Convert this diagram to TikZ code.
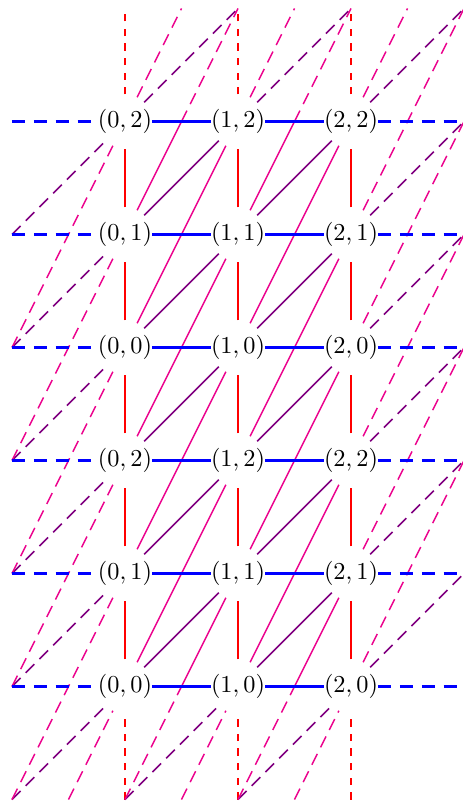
\documentclass[tikz,border=0pt]{standalone}
\definecolor{cred}{RGB}{255,0,0}
\definecolor{cblue}{RGB}{0,0,255}
\definecolor{cpurp}{RGB}{128,0,128}
\definecolor{cmag}{RGB}{235,0,140}
\tikzset{
  hedge/.style={line width=0.9pt,draw=cblue},
  vedge/.style={line width=0.8pt,draw=cred},
  dedge/.style={line width=0.6pt,draw=cpurp},
  medge/.style={line width=0.6pt,draw=cmag},
  hdash/.style={dash pattern=on 5.4pt off 3.6pt},
  vdash/.style={dash pattern=on 3pt off 3pt},
  ddash/.style={dash pattern=on 5pt off 3pt},
  vtx/.style={circle,inner sep=0pt,outer sep=-1pt}
}
% point (x,y) of the half-integer lattice is named c<2x+2>y<y+2>
\newcommand\E[5]{%
  \pgfmathtruncatemacro\ea{2*(#2)+2}%
  \pgfmathtruncatemacro\eb{(#3)+2}%
  \pgfmathtruncatemacro\ec{2*(#4)+2}%
  \pgfmathtruncatemacro\ed{(#5)+2}%
  \draw[#1] (c\ea y\eb) -- (c\ec y\ed);%
}
\begin{document}
\begin{tikzpicture}[x=46.5pt,y=46.5pt]
\useasboundingbox (-1.1062,-1.0398) rectangle (2.9823,6.0752);
% lattice points: labelled nodes inside, bare coordinates outside
\foreach \X in {0,...,8} {
  \foreach \k in {-1,...,6} {
    \pgfmathtruncatemacro\Y{\k+2}
    \pgfmathsetmacro\xx{\X/2-1}
    \pgfmathtruncatemacro\ins{(\X>=2)*(\X<=6)*(mod(\X,2)==0)*(\k>=0)*(\k<=5)}
    \pgfmathtruncatemacro\ii{\X/2-1}
    \pgfmathtruncatemacro\j{mod(\k+6,3)}
    \ifnum\ins=1
      \node[vtx] (c\X y\Y) at (\xx,\k) {$(\ii,\j)$};
    \else
      \coordinate (c\X y\Y) at (\xx,\k);
    \fi
  }
}
% vertical (red)
\foreach \i in {0,1,2} {
  \E{vedge,vdash}{\i}{-1}{\i}{0}
  \foreach \k in {0,...,4} {
    \E{vedge}{\i}{\k}{\i}{\k+1}
  }
  \E{vedge,vdash}{\i}{5}{\i}{6}
}
% diagonal of slope 1 (purple)
\foreach \i in {0,1} {
  \foreach \k in {0,...,4} {
    \E{dedge}{\i}{\k}{\i+1}{\k+1}
  }
  \E{dedge,ddash}{\i}{-1}{\i+1}{0}
  \E{dedge,ddash}{\i}{5}{\i+1}{6}
}
\foreach \k in {-1,...,4} {
  \E{dedge,ddash}{-1}{\k}{0}{\k+1}
}
\foreach \k in {0,...,5} {
  \E{dedge,ddash}{2}{\k}{3}{\k+1}
}
% diagonal of slope 2 (magenta)
\foreach \i in {0,1} {
  \foreach \k in {0,...,3} {
    \E{medge}{\i}{\k}{\i+1}{\k+2}
  }
  \E{medge}{\i}{4}{\i+0.5}{5}
  \E{medge,ddash}{\i+0.5}{5}{\i+1}{6}
  \E{medge,ddash}{\i}{-1}{\i+0.5}{0}
  \E{medge}{\i+0.5}{0}{\i+1}{1}
}
\foreach \i in {0,1,2} {
  \E{medge,ddash}{\i}{5}{\i+0.5}{6}
  \E{medge,ddash}{\i-0.5}{-1}{\i}{0}
}
\foreach \k in {-1,...,3} {
  \E{medge,ddash}{-1}{\k}{0}{\k+2}
}
\foreach \k in {0,...,4} {
  \E{medge,ddash}{2}{\k}{3}{\k+2}
}
% horizontal (blue)
\foreach \k in {0,...,5} {
  \E{hedge,hdash}{-1}{\k}{0}{\k}
  \E{hedge}{0}{\k}{1}{\k}
  \E{hedge}{1}{\k}{2}{\k}
  \E{hedge,hdash}{2}{\k}{3}{\k}
}
\end{tikzpicture}
\end{document}
